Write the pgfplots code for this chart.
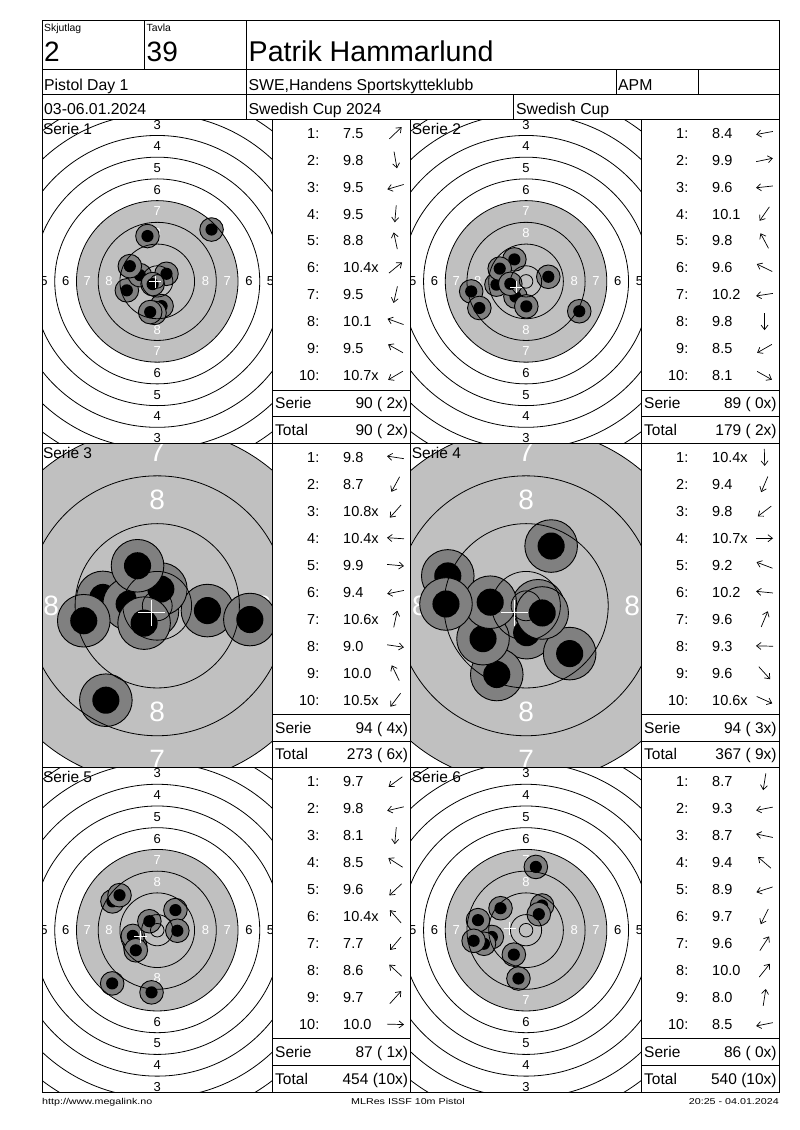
\documentclass[border=0pt]{standalone}
\usepackage{fontspec}
\setmainfont{Liberation Sans}
\usepackage{pgfplots}
\pgfplotsset{compat=1.18}
\usepackage{pgfplotstable}
\usetikzlibrary{arrows.meta}
\definecolor{aimgrey}{HTML}{C0C0C0}
\definecolor{shotgrey}{HTML}{808080}

\pgfdeclareplotmark{shot}{%
  \pgfsetlinewidth{0.9pt}%
  \pgfpathcircle{\pgfpointorigin}{\pgfplotmarksize}%
  \pgfsetfillcolor{shotgrey}\pgfsetstrokecolor{black}%
  \pgfusepathqfillstroke
  \pgfpathcircle{\pgfpointorigin}{0.515\pgfplotmarksize}%
  \pgfsetfillcolor{black}%
  \pgfusepathqfill
}

% shot positions in mm from the target centre
\pgfplotstableread{
x y
20.0 19.1
1.6 -9.1
-11.2 -3.3
-1.0 -11.6
-3.6 16.7
3.4 2.8
-2.6 -11.3
-6.4 2.3
-10.1 5.6
-1.7 -1.0
}\serA
\pgfplotstableread{
x y
-20.2 -3.7
8.2 1.7
-10.9 -1.2
-3.9 -5.6
-4.3 8.1
-9.7 4.7
-5.8 -0.9
0.1 -9.2
-17.2 -9.8
19.6 -11.0
}\serB
\pgfplotstableread{
x y
-9.1 1.4
-8.6 -15.8
-0.8 -0.9
-4.7 0.3
8.4 -0.8
-12.3 -2.5
0.6 2.8
15.5 -2.3
-3.3 6.7
-2.2 -2.9
}\serC
\pgfplotstableread{
x y
0.1 -4.5
-4.9 -11.5
-7.2 -5.5
2.0 0.0
-13.1 5.0
-6.0 0.6
4.2 10.0
-13.4 0.3
7.3 -8.0
2.7 -1.2
}\serD
\pgfplotstableread{
x y
-8.1 -5.9
-9.0 -2.1
-2.1 -22.9
-16.5 10.6
-7.9 -7.4
-2.9 3.3
-16.6 -19.6
-13.9 12.9
6.7 7.4
7.4 -0.2
}\serE
\pgfplotstableread{
x y
-2.8 -17.8
-12.6 -2.5
-17.7 3.7
-9.4 8.1
-15.5 -5.0
-4.5 -9.0
5.9 9.1
4.7 5.9
3.6 23.3
-19.3 -3.9
}\serF

% ring numbers: vertical pair and horizontal pair
\newcommand\rlv[4]{%
  \node[font=\fontsize{#1}{#1}\selectfont, text=#4, inner sep=0] at (axis cs:0,#3) {#2};
  \node[font=\fontsize{#1}{#1}\selectfont, text=#4, inner sep=0] at (axis cs:0,-#3) {#2};
}
\newcommand\rlh[4]{%
  \node[font=\fontsize{#1}{#1}\selectfont, text=#4, inner sep=0] at (axis cs:#3,0) {#2};
  \node[font=\fontsize{#1}{#1}\selectfont, text=#4, inner sep=0] at (axis cs:-#3,0) {#2};
}
\newcommand\labelsN{%
  \rlv{13}{3}{57.75}{black}\rlv{13}{4}{49.75}{black}\rlv{13}{5}{41.75}{black}%
  \rlv{13}{6}{33.75}{black}\rlv{13}{7}{25.75}{white}\rlv{13}{8}{17.75}{white}%
  \rlh{13}{5}{41.75}{black}\rlh{13}{6}{33.75}{black}%
  \rlh{13}{7}{25.75}{white}\rlh{13}{8}{17.75}{white}}
\newcommand\labelsZ{%
  \rlv{28}{7}{25.75}{white}\rlv{28}{8}{17.75}{white}\rlh{28}{8}{17.75}{white}}

\newcommand\target[9]{%
\begin{axis}[at={(#1pt,#2pt)}, anchor=south west, scale only axis,
  width=230.5pt, height=324.4pt,
  xmin=-#3, xmax=#3, ymin=-#4, ymax=#4,
  axis line style={draw=none}, ticks=none, clip marker paths=true]
  \fill[aimgrey] (axis cs:0,0) circle[radius=29.75];
  #5
  \addplot[only marks, mark=shot, mark size=#6pt] table {#8};
  \pgfplotsinvokeforeach{2.5,5.75,13.75,21.75,29.75,37.75,45.75,53.75,61.75,69.75,77.75}{%
    \draw[line width=0.8pt] (axis cs:0,0) circle[radius=##1];}
  \addplot[only marks, mark=+, mark size=#7pt, white, line width=1pt,
    mark options={white}] coordinates {#9};
\end{axis}}

\newcommand\rowfont{\fontsize{14.5}{14.5}\selectfont}
\newcommand\sumfont{\fontsize{15.5}{15.5}\selectfont}
\newcommand\scoretable[6]{% xleft, xright, Ytop, rows, serie, total
  \foreach \idx/\val/\ang in {#4} {
    \pgfmathsetmacro\yy{#3-19.0-26.95*(\idx-1)}
    \node[anchor=base east, inner sep=0, font=\rowfont] at (#1+47,\yy) {\idx:};
    \node[anchor=base west, inner sep=0, font=\rowfont] at (#1+70.5,\yy) {\val};
    \pgfmathsetmacro\yc{\yy+5.2}
    \draw[line width=0.7pt, -{Straight Barb[length=4.5pt,width=7pt]}]
      (#1+123,\yc) ++(\ang+180:8.5) -- ++(\ang:17);
  }
  \node[anchor=base west, inner sep=0, font=\sumfont] at (#1+2.5,#3-289.5) {Serie};
  \node[anchor=base east, inner sep=0, font=\sumfont] at (#2-2.5,#3-289.5) {#5};
  \node[anchor=base west, inner sep=0, font=\sumfont] at (#1+2.5,#3-316.3) {Total};
  \node[anchor=base east, inner sep=0, font=\sumfont] at (#2-2.5,#3-316.3) {#6};
  \draw[line width=1pt] (#1,#3-271) -- (#2,#3-271);
  \draw[line width=1pt] (#1,#3-297.7) -- (#2,#3-297.7);
}

\begin{document}
\begin{tikzpicture}[x=1pt,y=1pt]
\fill[white] (0,0) rectangle (800,1130);
\path[use as bounding box] (0,0) rectangle (800,1130);

\target{42}{686.4}{42.449}{59.742}{\labelsN}{11.8}{6.1}{\serA}{(-0.7,-0.2)}
\target{410.8}{686.4}{42.449}{59.742}{\labelsN}{11.8}{6.1}{\serB}{(-3.6,-2.1)}
\target{42}{362.0}{19.289}{27.146}{\labelsZ}{26.3}{13.4}{\serC}{(-0.95,-1.2)}
\target{410.8}{362.0}{19.289}{27.146}{\labelsZ}{26.3}{13.4}{\serD}{(-1.95,-1.2)}
\target{42}{37.6}{42.449}{59.742}{\labelsN}{11.8}{6.1}{\serE}{(-6.2,-2.45)}
\target{410.8}{37.6}{42.449}{59.742}{\labelsN}{11.8}{6.1}{\serF}{(-6.0,0.6)}

% panel titles
\foreach \px/\py/\nm in {42/1010.8/1, 410.8/1010.8/2, 42/686.4/3, 410.8/686.4/4, 42/362/5, 410.8/362/6}{
  \node[anchor=base west, inner sep=0, font=\sumfont] at (\px+0.8,\py-15) {Serie \nm};
}

% score tables
\scoretable{272.5}{410.8}{1010.8}{1/7.5/43.7, 2/9.8/-80, 3/9.5/196.4, 4/9.5/265.1, 5/8.8/102.2, 6/10.4x/39.5, 7/9.5/257, 8/10.1/160.2, 9/9.5/151, 10/10.7x/210.5}{90 ( 2x)}{90 ( 2x)}
\scoretable{641.5}{779.3}{1010.8}{1/8.4/190.4, 2/9.9/11.7, 3/9.6/186.3, 4/10.1/235.1, 5/9.8/118, 6/9.6/154.1, 7/10.2/188.8, 8/9.8/270.6, 9/8.5/209.7, 10/8.1/-29.3}{89 ( 0x)}{179 ( 2x)}
\scoretable{272.5}{410.8}{686.4}{1/9.8/171.3, 2/8.7/241.4, 3/10.8x/228.4, 4/10.4x/176.3, 5/9.9/-5.4, 6/9.4/191.5, 7/10.6x/77.9, 8/9.0/-8.4, 9/10.0/116.2, 10/10.5x/232.8}{94 ( 4x)}{273 ( 6x)}
\scoretable{641.5}{779.3}{686.4}{1/10.4x/271.3, 2/9.4/246.9, 3/9.8/217.4, 4/10.7x/0, 5/9.2/159.1, 6/10.2/174.3, 7/9.6/67.2, 8/9.3/178.7, 9/9.6/-47.6, 10/10.6x/-24}{94 ( 3x)}{367 ( 9x)}
\scoretable{272.5}{410.8}{362}{1/9.7/216.1, 2/9.8/193.1, 3/8.1/264.8, 4/8.5/147.3, 5/9.6/223.1, 6/10.4x/131.3, 7/7.7/229.7, 8/8.6/137.1, 9/9.7/47.8, 10/10.0/-1.5}{87 ( 1x)}{454 (10x)}
\scoretable{641.5}{779.3}{362}{1/8.7/261.1, 2/9.3/191.2, 3/8.7/168.2, 4/9.4/139.2, 5/8.9/197.9, 6/9.7/243.4, 7/9.6/57, 8/10.0/51.5, 9/8.0/81.2, 10/8.5/191.4}{86 ( 0x)}{540 (10x)}

% header
\node[anchor=base west, inner sep=0, font=\fontsize{10.4}{10.4}\selectfont] at (44,1098.3) {Skjutlag};
\node[anchor=base west, inner sep=0, font=\fontsize{10.4}{10.4}\selectfont] at (146.5,1098.3) {Tavla};
\node[anchor=base west, inner sep=0, font=\fontsize{28}{28}\selectfont] at (44,1068) {2};
\node[anchor=base west, inner sep=0, font=\fontsize{28}{28}\selectfont] at (146.5,1068) {39};
\node[anchor=base west, inner sep=0, font=\fontsize{28.6}{28.6}\selectfont] at (248.5,1068) {Patrik Hammarlund};
\node[anchor=base west, inner sep=0, font=\fontsize{15.8}{15.8}\selectfont] at (44,1039) {Pistol Day 1};
\node[anchor=base west, inner sep=0, font=\fontsize{15.8}{15.8}\selectfont] at (248.5,1039) {SWE,Handens Sportskytteklubb};
\node[anchor=base west, inner sep=0, font=\fontsize{15.8}{15.8}\selectfont] at (618,1039) {APM};
\node[anchor=base west, inner sep=0, font=\fontsize{15.8}{15.8}\selectfont] at (44,1015) {03-06.01.2024};
\node[anchor=base west, inner sep=0, font=\fontsize{15.8}{15.8}\selectfont] at (248.5,1015) {Swedish Cup 2024};
\node[anchor=base west, inner sep=0, font=\fontsize{15.8}{15.8}\selectfont] at (516,1015) {Swedish Cup};

% footer
\node[anchor=base west, inner sep=0] at (42,25) {\scalebox{1.26}[1]{\fontsize{8.5}{8.5}\selectfont http://www.megalink.no}};
\node[anchor=base, inner sep=0] at (408,25) {\scalebox{1.26}[1]{\fontsize{8.5}{8.5}\selectfont MLRes ISSF 10m Pistol}};
\node[anchor=base east, inner sep=0] at (779,25) {\scalebox{1.26}[1]{\fontsize{8.5}{8.5}\selectfont 20:25 - 04.01.2024}};

% grid lines
\begin{scope}[line width=1pt]
\draw (42,37.6) rectangle (779.3,1109);
\foreach \yy in {1060,1035,1010.8,686.4,362}{\draw (42,\yy) -- (779.3,\yy);}
\draw (144.3,1109) -- (144.3,1060);
\draw (246.7,1109) -- (246.7,1010.8);
\draw (616,1060) -- (616,1035);
\draw (698.3,1060) -- (698.3,1035);
\draw (513.3,1035) -- (513.3,1010.8);
\foreach \xx in {272.5,410.8,641.5}{\draw (\xx,1010.8) -- (\xx,37.6);}
\end{scope}
\end{tikzpicture}
\end{document}
